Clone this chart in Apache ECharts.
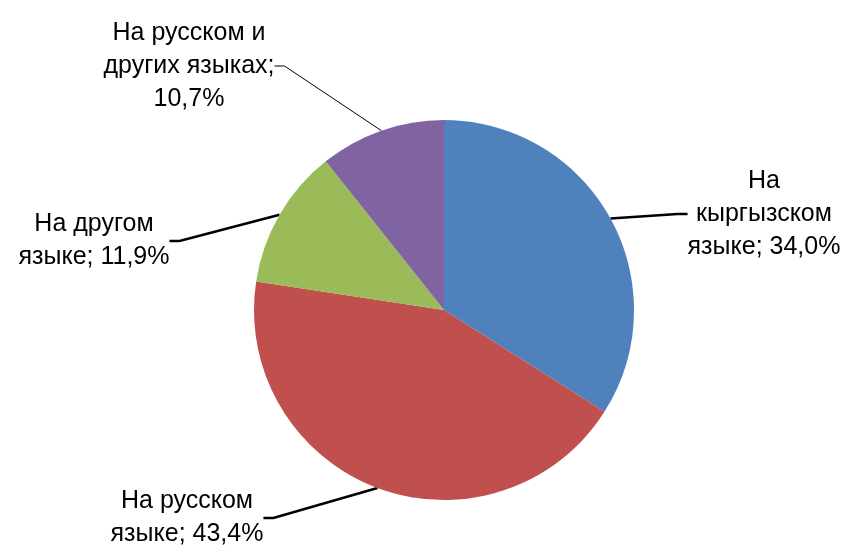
<!DOCTYPE html>
<html>
<head>
<meta charset="utf-8">
<script src="https://cdn.jsdelivr.net/npm/echarts@6/dist/echarts.min.js"></script>
<style>html,body{margin:0;padding:0;background:#fff}#c{width:857px;height:550px}</style>
</head>
<body>
<div id="c"></div>
<script>
const categories = ['На\nкыргызском\nязыке', 'На русском\nязыке', 'На другом\nязыке', 'На русском и\nдругих языках'];
const values = [34.0, 43.4, 11.9, 10.7];
const valueLabels = ['34,0%', '43,4%', '11,9%', '10,7%'];
const colors = ['#4F81BD', '#C0504D', '#9BBB59', '#8064A2'];
const labelSeparators = ['; ', '; ', '; ', ';\n'];
// label block centres (layout, not data)
const labelPos = [[764, 214], [187, 518], [94, 241], [189, 66]];
const lineWidths = [2.5, 2.5, 2.5, 1];

const chart = echarts.init(document.getElementById('c'));
chart.setOption({
  animation: false,
  series: [{
    type: 'pie',
    center: [444, 310],
    radius: [0, 190],
    startAngle: 90,
    clockwise: true,
    data: categories.map((name, i) => ({
      name: name,
      value: values[i],
      itemStyle: { color: colors[i] },
      label: { formatter: name + labelSeparators[i] + valueLabels[i] },
      labelLine: { lineStyle: { width: lineWidths[i] } }
    })),
    itemStyle: { borderWidth: 0 },
    label: {
      show: true,
      color: '#000',
      fontFamily: 'Liberation Sans, Arial, sans-serif',
      fontSize: 25,
      lineHeight: 33,
      align: 'center'
    },
    labelLine: {
      show: true,
      length: 10,
      length2: 10,
      lineStyle: { color: '#000' }
    },
    labelLayout: function (p) {
      const pos = labelPos[p.dataIndex];
      return { x: pos[0], y: pos[1], align: 'center', verticalAlign: 'middle' };
    },
    emphasis: { disabled: true }
  }]
});
</script>
</body>
</html>
